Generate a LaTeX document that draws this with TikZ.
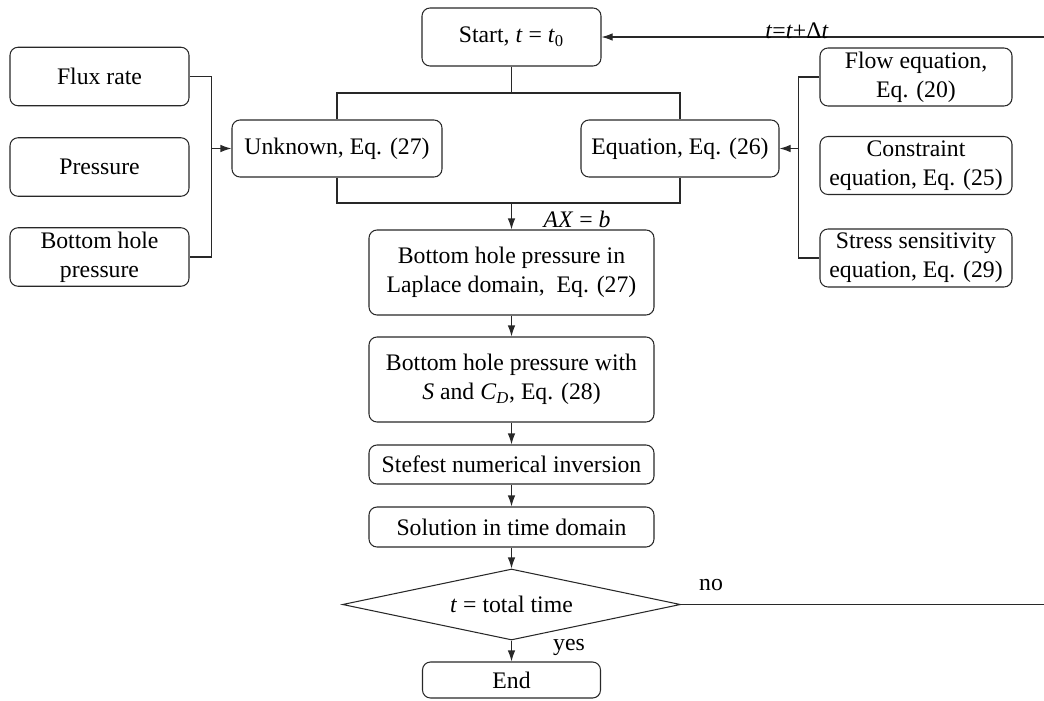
\documentclass[tikz,border=0pt]{standalone}
\usepackage{fontspec}
\setmainfont{Liberation Serif}
\usepackage{tikz}
\usetikzlibrary{positioning,arrows.meta,shapes.geometric,calc}
\definecolor{linegray}{RGB}{40,40,40}

\begin{document}
\begin{tikzpicture}[every node/.style={font=\fontsize{13.5}{16.5}\selectfont},
  box/.style={draw=linegray,line width=0.6pt,rounded corners=0.16cm,align=center,inner sep=1pt},
  test/.style={draw=linegray,line width=0.6pt,diamond,aspect=4.76,inner sep=0pt},
  link/.style={draw=linegray,line width=0.6pt},
  >={Latex[length=2.2mm,width=1.5mm]}]
\useasboundingbox (0,0) rectangle (20.88,-14);

% main column
\node[box,minimum width=3.58cm,minimum height=1.16cm] (start) at (10.23,-0.74) {Start, \textit{t} = \textit{t}\textsubscript{0}};
\node[box,minimum width=4.2cm,minimum height=1.14cm] (unk) at (6.74,-2.97) {Unknown, Eq. (27)};
\node[box,minimum width=3.96cm,minimum height=1.14cm] (eqn) at (13.6,-2.97) {Equation, Eq. (26)};
\node[box,minimum width=5.7cm,minimum height=1.7cm] (lap) at (10.23,-5.45) {Bottom hole pressure in\\Laplace domain,\ \ Eq. (27)};
\node[box,minimum width=5.7cm,minimum height=1.7cm] (skin) at (10.23,-7.59) {Bottom hole pressure with\\\textit{S} and \textit{C}\textsubscript{\textit{D}}, Eq. (28)};
\node[box,minimum width=5.7cm,minimum height=0.78cm] (inv) at (10.23,-9.29) {Stefest numerical inversion};
\node[box,minimum width=5.7cm,minimum height=0.8cm] (sol) at (10.23,-10.54) {Solution in time domain};
\node[test,minimum width=6.76cm,minimum height=1.42cm] (dec) at (10.23,-12.09) {\textit{t} = total time};
\node[box,minimum width=3.56cm,minimum height=0.72cm] (stop) at (10.23,-13.6) {End};

% inputs on the left
\node[box,minimum width=3.58cm,minimum height=1.17cm] (flux) at (1.99,-1.53) {Flux rate};
\node[box,minimum width=3.58cm,minimum height=1.17cm] (pres) at (1.99,-3.34) {Pressure};
\node[box,minimum width=3.58cm,minimum height=1.17cm] (bhp) at (1.99,-5.14) {Bottom hole\\pressure};

% equations on the right
\node[box,minimum width=3.84cm,minimum height=1.16cm] (flow) at (18.32,-1.54) {Flow equation,\\Eq. (20)};
\node[box,minimum width=3.84cm,minimum height=1.16cm] (cons) at (18.32,-3.31) {Constraint\\equation, Eq. (25)};
\node[box,minimum width=3.84cm,minimum height=1.16cm] (stress) at (18.32,-5.16) {Stress sensitivity\\equation, Eq. (29)};

\coordinate (split) at (10.23,-1.86);
\coordinate (merge) at (10.23,-4.06);
\coordinate (lj) at (4.22,-2.97);
\coordinate (rj) at (15.98,-2.97);
\coordinate (noend) at (20.88,-12.09);
\coordinate (loopin) at (20.88,-0.74);

\draw[link] (start) -- (split);
\draw[link] (unk.north) |- (split) -| (eqn.north);
\draw[link] (unk.south) |- (merge) -| (eqn.south);
\draw[link,->] (merge) -- (lap);
\draw[link] (flux.east) -- ++(0.44,0) |- (bhp.east);
\draw[link,->] (lj) -- (unk.west);
\draw[link] (flow.west) -- ++(-0.42,0) |- (stress.west);
\draw[link,->] (rj) -- (eqn.east);
\draw[link,->] (lap) -- (skin);
\draw[link,->] (skin) -- (inv);
\draw[link,->] (inv) -- (sol);
\draw[link,->] (sol) -- (dec);
\draw[link,->] (dec) -- (stop);
\draw[link] (dec.east) -- (noend);
\draw[link,->] (loopin) -- (start);

\node (ax) at (11.54,-4.38) {\textit{AX} = \textit{b}};
\node (no) at (14.22,-11.7) {no};
\node (yes) at (11.38,-12.94) {yes};
\node[anchor=south,inner sep=0pt] (step) at (15.94,-0.78) {\textit{t}=\textit{t}+Δ\textit{t}};
\end{tikzpicture}
\end{document}
